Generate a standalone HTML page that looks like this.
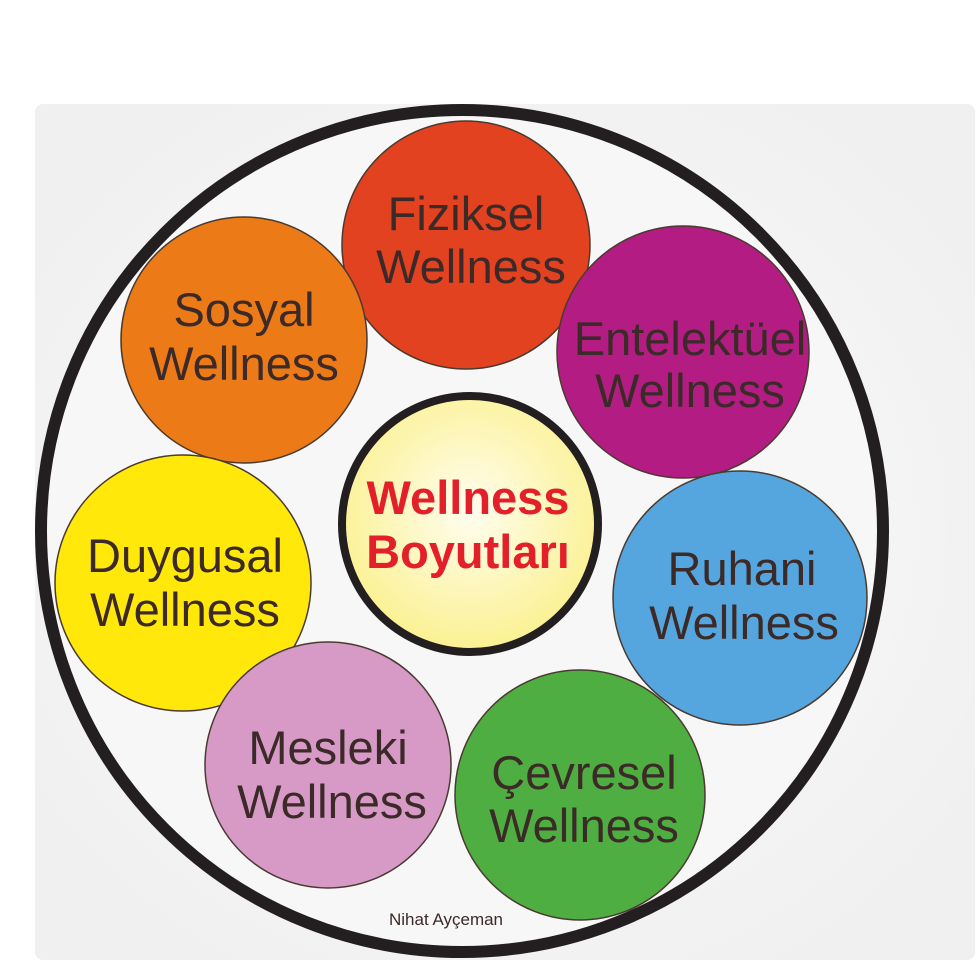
<!DOCTYPE html>
<html><head><meta charset="utf-8"><style>
html,body{margin:0;padding:0;background:#fff;}
svg{display:block;}
text{font-family:"Liberation Sans",sans-serif;}
</style></head><body>
<svg width="980" height="980" viewBox="0 0 980 980" xmlns="http://www.w3.org/2000/svg">
<defs>
<radialGradient id="bg" cx="50%" cy="50%" r="60%">
<stop offset="0" stop-color="#fcfcfc"/><stop offset="1" stop-color="#f0f0f0"/></radialGradient>
<radialGradient id="cy" cx="50%" cy="45%" r="55%">
<stop offset="0" stop-color="#fffdf0"/><stop offset="1" stop-color="#fbf191"/></radialGradient>
</defs>
<rect x="35" y="104" width="940" height="856" rx="8" fill="url(#bg)"/>
<circle cx="462" cy="531" r="421" fill="#f7f7f7" stroke="#231f20" stroke-width="12"/>
<g stroke="#4a3a30" stroke-width="1.5">
<circle cx="466" cy="245" r="124" fill="#e2421f"/>
<circle cx="244" cy="340" r="123" fill="#ec7a16"/>
<circle cx="683" cy="352" r="126" fill="#b31d83"/>
<circle cx="183" cy="583" r="128" fill="#ffe80a"/>
<circle cx="740" cy="598" r="127" fill="#55a6de"/>
<circle cx="328" cy="765" r="123" fill="#d79ac6"/>
<circle cx="580" cy="795" r="125" fill="#4fae41"/>
</g>
<circle cx="470" cy="524" r="128" fill="url(#cy)" stroke="#231f20" stroke-width="8"/>
<g fill="#3b2a28" font-size="47" text-anchor="middle">
<text x="466" y="230">Fiziksel</text><text x="471" y="283">Wellness</text>
<text x="244" y="326">Sosyal</text><text x="244" y="380">Wellness</text>
<text x="690" y="355">Entelektüel</text><text x="690" y="407">Wellness</text>
<text x="185" y="572">Duygusal</text><text x="185" y="626">Wellness</text>
<text x="742" y="585">Ruhani</text><text x="744" y="639">Wellness</text>
<text x="328" y="764">Mesleki</text><text x="332" y="818">Wellness</text>
<text x="584" y="789">Çevresel</text><text x="584" y="842">Wellness</text>
</g>
<g fill="#e3202a" font-size="47" font-weight="bold" text-anchor="middle">
<text x="468" y="514">Wellness</text><text x="468" y="568">Boyutları</text>
</g>
<text x="446" y="925" font-size="17" fill="#3b2a28" text-anchor="middle">Nihat Ayçeman</text>
</svg>
</body></html>
